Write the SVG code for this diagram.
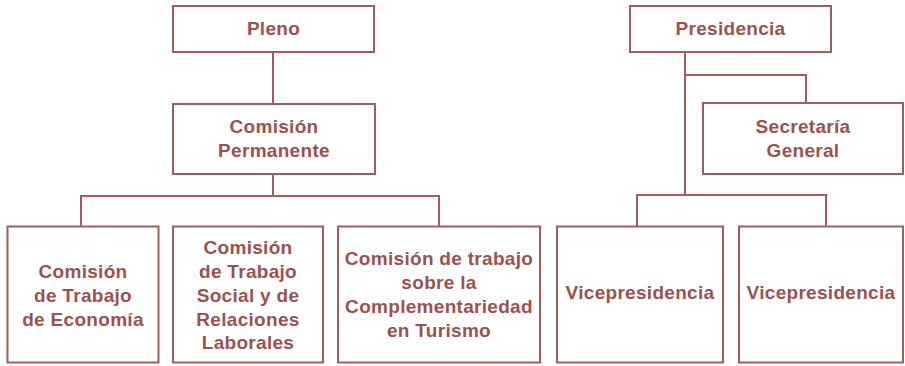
<svg xmlns="http://www.w3.org/2000/svg" width="905" height="366" viewBox="0 0 905 366">
<style>
.box{fill:#fff;stroke:#a35c5a;stroke-width:2}
.ln{fill:none;stroke:#a35c5a;stroke-width:2}
text{font-family:"Liberation Sans",Arial,sans-serif;font-weight:bold;font-size:19px;letter-spacing:0.3px;fill:#9e504e;text-anchor:middle}
</style>
<rect width="905" height="366" fill="#fff"/>
<g id="connectors">
<path class="ln" d="M273 52V104"/>
<path class="ln" d="M273 174V196M81 226V196H439V226"/>
<path class="ln" d="M685 52V195M685 75H806V103"/>
<path class="ln" d="M637 226V195H826V226"/>
</g>
<g id="pleno"><rect class="box" x="173" y="6" width="201" height="46"/><text x="273.5" y="35">Pleno</text></g>
<g id="permanente"><rect class="box" x="173" y="104" width="202" height="70"/><text x="274" y="133">Comisión</text><text x="274" y="157">Permanente</text></g>
<g id="presidencia"><rect class="box" x="630" y="6" width="201" height="46"/><text x="730.5" y="35">Presidencia</text></g>
<g id="secretaria"><rect class="box" x="703" y="103" width="200" height="71"/><text x="803" y="133">Secretaría</text><text x="803" y="157">General</text></g>
<g id="economia"><rect class="box" x="7.5" y="226.5" width="151" height="136"/><text x="83" y="278">Comisión</text><text x="83" y="302">de Trabajo</text><text x="83" y="326">de Economía</text></g>
<g id="social"><rect class="box" x="173" y="226.5" width="150" height="136"/><text x="248" y="254">Comisión</text><text x="248" y="278">de Trabajo</text><text x="248" y="302">Social y de</text><text x="248" y="326">Relaciones</text><text x="248" y="349">Laborales</text></g>
<g id="turismo"><rect class="box" x="338" y="226.5" width="202" height="136"/><text x="439" y="265">Comisión de trabajo</text><text x="439" y="289">sobre la</text><text x="439" y="312.5">Complementariedad</text><text x="439" y="336.5">en Turismo</text></g>
<g id="vice1"><rect class="box" x="557" y="226.5" width="166" height="136"/><text x="640" y="299">Vicepresidencia</text></g>
<g id="vice2"><rect class="box" x="739" y="226.5" width="164" height="136"/><text x="821" y="299">Vicepresidencia</text></g>
</svg>
